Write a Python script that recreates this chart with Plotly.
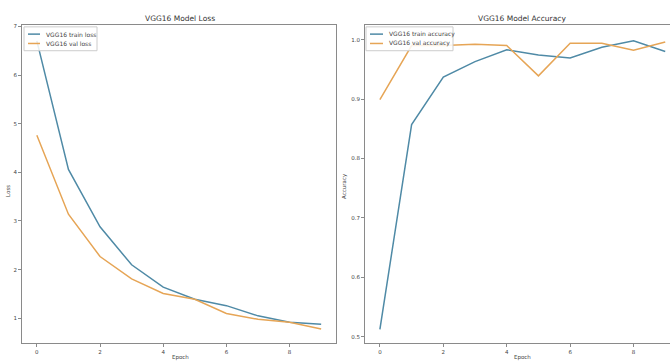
import plotly.graph_objects as go

epochs = list(range(10))
train_loss = [6.7, 4.06, 2.88, 2.1, 1.64, 1.39, 1.26, 1.05, 0.92, 0.88]
val_loss = [4.76, 3.14, 2.27, 1.81, 1.51, 1.39, 1.1, 0.98, 0.92, 0.78]
train_acc = [0.512, 0.857, 0.937, 0.963, 0.983, 0.974, 0.969, 0.987, 0.998, 0.98]
val_acc = [0.899, 0.99, 0.99, 0.992, 0.99, 0.939, 0.994, 0.994, 0.982, 0.996]
x_ticks = [0, 2, 4, 6, 8]
loss_ticks = [1, 2, 3, 4, 5, 6, 7]
acc_ticks = [0.5, 0.6, 0.7, 0.8, 0.9, 1.0]
acc_tick_labels = ["0.5", "0.6", "0.7", "0.8", "0.9", "1.0"]
loss_names = ["VGG16 train loss", "VGG16 val loss"]
acc_names = ["VGG16 train accuracy", "VGG16 val accuracy"]

BLUE = "#4f8aa6"
ORANGE = "#e6a556"
AX = "#8a8a8a"
TXT = "#444444"
FONT = "DejaVu Sans"
W, H = 670, 362

fig = go.Figure()
fig.add_trace(go.Scatter(x=epochs, y=train_loss, mode="lines", name=loss_names[0],
                         line=dict(color=BLUE, width=1.5), xaxis="x", yaxis="y"))
fig.add_trace(go.Scatter(x=epochs, y=val_loss, mode="lines", name=loss_names[1],
                         line=dict(color=ORANGE, width=1.5), xaxis="x", yaxis="y"))
fig.add_trace(go.Scatter(x=epochs, y=train_acc, mode="lines", name=acc_names[0],
                         line=dict(color=BLUE, width=1.5), xaxis="x2", yaxis="y2"))
fig.add_trace(go.Scatter(x=epochs, y=val_acc, mode="lines", name=acc_names[1],
                         line=dict(color=ORANGE, width=1.5), xaxis="x2", yaxis="y2"))


def px(x):
    return x / W


def py(y):
    return 1 - y / H


ydom = [py(343), py(23.5)]
common = dict(showgrid=False, zeroline=False, showline=True, linecolor=AX, linewidth=1,
              ticks="outside", ticklen=3, tickcolor=AX, tickfont=dict(size=5.5, color=TXT, family=FONT))

shapes = []
annotations = []


def add_legend(x0, x1, y0, y1, line_x0, line_x1, text_x, rows, names):
    shapes.append(dict(type="rect", xref="paper", yref="paper", x0=px(x0), x1=px(x1), y0=py(y1), y1=py(y0),
                       line=dict(color="#cccccc", width=1), fillcolor="rgba(255,255,255,0.85)", layer="above"))
    for (ry, color), name in zip(rows, names):
        shapes.append(dict(type="line", xref="paper", yref="paper", x0=px(line_x0), x1=px(line_x1),
                           y0=py(ry), y1=py(ry), line=dict(color=color, width=1.5), layer="above"))
        annotations.append(dict(text=name, x=px(text_x), y=py(ry), xref="paper", yref="paper",
                                xanchor="left", yanchor="middle", showarrow=False,
                                font=dict(size=6, color=TXT, family=FONT)))


add_legend(24, 97, 25, 49, 28, 40, 44, [(32.3, BLUE), (41.7, ORANGE)], loss_names)
add_legend(366, 453, 25, 49, 370, 383, 387, [(32.3, BLUE), (41.7, ORANGE)], acc_names)

annotations += [
    dict(text="VGG16 Model Loss", x=px(180), y=py(17), xref="paper", yref="paper",
         xanchor="center", yanchor="middle",
         showarrow=False, font=dict(size=7.5, color="#333333", family=FONT)),
    dict(text="VGG16 Model Accuracy", x=px(522), y=py(17), xref="paper", yref="paper",
         xanchor="center", yanchor="middle",
         showarrow=False, font=dict(size=7.5, color="#333333", family=FONT)),
    dict(text="Loss", x=px(8), y=py(190), xref="paper", yref="paper", textangle=-90,
         xanchor="center", yanchor="middle", showarrow=False, font=dict(size=5.5, color=TXT, family=FONT)),
    dict(text="Accuracy", x=px(345), y=py(185), xref="paper", yref="paper", textangle=-90,
         xanchor="center", yanchor="middle", showarrow=False, font=dict(size=5.5, color=TXT, family=FONT)),
    dict(text="Epoch", x=px(180), y=0, xref="paper", yref="paper", xanchor="center", yanchor="bottom",
         borderpad=0, showarrow=False, font=dict(size=5.5, color=TXT, family=FONT)),
    dict(text="Epoch", x=px(522), y=0, xref="paper", yref="paper", xanchor="center", yanchor="bottom",
         borderpad=0, showarrow=False, font=dict(size=5.5, color=TXT, family=FONT)),
]

fig.update_layout(
    width=W, height=H, margin=dict(l=0, r=0, t=0, b=0),
    paper_bgcolor="white", plot_bgcolor="white",
    font=dict(family=FONT, color=TXT),
    showlegend=False,
    xaxis=dict(domain=[px(22), px(336)], range=[-0.47, 9.47], tickvals=x_ticks, mirror=True, anchor="y", **common),
    yaxis=dict(domain=ydom, range=[0.49, 7.02], tickvals=loss_ticks, mirror=True, anchor="x", **common),
    xaxis2=dict(domain=[px(365), 1.0], range=[-0.47, 9.15], tickvals=x_ticks, mirror=True, anchor="y2", **common),
    yaxis2=dict(domain=ydom, range=[0.489, 1.024], tickvals=acc_ticks, ticktext=acc_tick_labels,
                mirror=False, anchor="x2", **common),
    shapes=shapes,
    annotations=annotations,
)

fig.write_html("out.html")
